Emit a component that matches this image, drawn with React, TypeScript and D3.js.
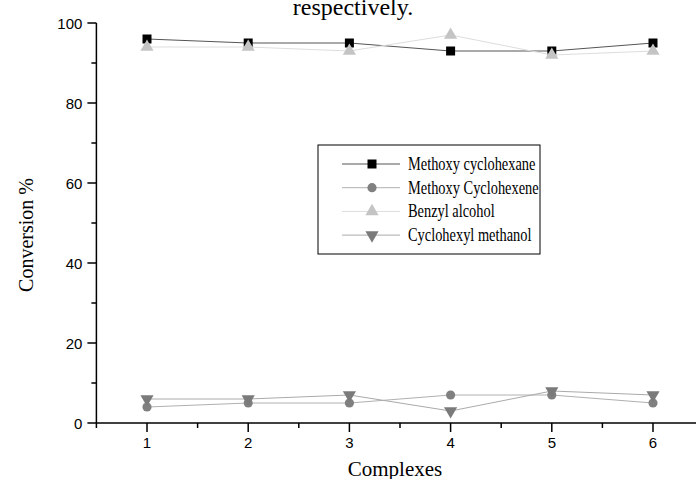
import React, { useEffect, useRef } from 'react';
import * as d3 from 'd3';

const complexes = [1, 2, 3, 4, 5, 6];
const methoxyCyclohexane = [96, 95, 95, 93, 93, 95];
const methoxyCyclohexene = [4, 5, 5, 7, 7, 5];
const benzylAlcohol = [94, 94, 93, 97, 92, 93];
const cyclohexylMethanol = [6, 6, 7, 3, 8, 7];
const yTicks = [0, 20, 40, 60, 80, 100];

const series = [
  { name: 'Methoxy cyclohexane', values: methoxyCyclohexane, symbol: d3.symbolSquare, size: 81, fill: '#000000', line: '#555555' },
  { name: 'Methoxy Cyclohexene', values: methoxyCyclohexene, symbol: d3.symbolCircle, size: 66, fill: '#808080', line: '#b0b0b0' },
  { name: 'Benzyl alcohol', values: benzylAlcohol, symbol: d3.symbolTriangle, size: 75, fill: '#c4c4c4', line: '#dddddd' },
  { name: 'Cyclohexyl methanol', values: cyclohexylMethanol, symbol: d3.symbolTriangle, size: 75, fill: '#7a7a7a', line: '#aaaaaa', down: true },
];

const Chart = () => {
  const svgRef = useRef<SVGSVGElement>(null);

  useEffect(() => {
    const svg = d3.select(svgRef.current);
    svg.selectAll('*').remove();

    const x = d3.scaleLinear().domain([0.5, 6.5]).range([96.4, 703.6]);
    const y = d3.scaleLinear().domain([0, 100]).range([423, 23]);

    // title fragment, clipped at the top edge like the source figure
    svg.append('text')
      .attr('x', 353).attr('y', 15)
      .attr('text-anchor', 'middle')
      .attr('font-family', 'Liberation Serif')
      .attr('font-size', 24)
      .text('respectively.');

    // y axis
    const yAxis = svg.append('g').attr('transform', `translate(${x(0.5)},0)`);
    yAxis.append('line').attr('y1', y(100)).attr('y2', y(0) + 5).attr('stroke', '#000').attr('stroke-width', 1.5);
    d3.range(0, 101, 10).forEach(v => {
      const major = v % 20 === 0;
      yAxis.append('line')
        .attr('x1', major ? -9 : -5).attr('x2', 0)
        .attr('y1', y(v)).attr('y2', y(v))
        .attr('stroke', '#000').attr('stroke-width', 1.5);
    });
    yTicks.forEach(v => {
      yAxis.append('text')
        .attr('x', -14).attr('y', y(v) + 5.5)
        .attr('text-anchor', 'end')
        .attr('font-family', 'Liberation Sans')
        .attr('font-size', 15)
        .text(v);
    });

    // x axis
    const xAxis = svg.append('g').attr('transform', `translate(0,${y(0)})`);
    xAxis.append('line').attr('x1', x(0.5)).attr('x2', 696).attr('stroke', '#000').attr('stroke-width', 1.5);
    d3.range(1, 6.01, 0.5).forEach(v => {
      const major = Number.isInteger(v);
      xAxis.append('line')
        .attr('x1', x(v)).attr('x2', x(v))
        .attr('y1', 0).attr('y2', major ? 9 : 5)
        .attr('stroke', '#000').attr('stroke-width', 1.5);
    });
    complexes.forEach(v => {
      xAxis.append('text')
        .attr('x', x(v)).attr('y', 25)
        .attr('text-anchor', 'middle')
        .attr('font-family', 'Liberation Sans')
        .attr('font-size', 15)
        .text(v);
    });

    svg.append('text')
      .attr('x', 395).attr('y', 476)
      .attr('text-anchor', 'middle')
      .attr('font-family', 'Liberation Serif')
      .attr('font-size', 21)
      .text('Complexes');

    svg.append('text')
      .attr('transform', 'translate(33,235) rotate(-90)')
      .attr('text-anchor', 'middle')
      .attr('font-family', 'Liberation Serif')
      .attr('font-size', 20)
      .text('Conversion %');

    // series
    const line = d3.line<number>().x((_, i) => x(complexes[i])).y(d => y(d));
    series.forEach(s => {
      svg.append('path')
        .attr('d', line(s.values))
        .attr('fill', 'none')
        .attr('stroke', s.line)
        .attr('stroke-width', 1);
      const sym = d3.symbol().type(s.symbol).size(s.size);
      svg.append('g').selectAll('path')
        .data(s.values)
        .join('path')
        .attr('d', sym)
        .attr('transform', (d, i) => `translate(${x(complexes[i])},${y(d)})${s.down ? ' rotate(180)' : ''}`)
        .attr('fill', s.fill);
    });

    // legend
    const lg = svg.append('g').attr('transform', 'translate(318,145)');
    lg.append('rect').attr('width', 222).attr('height', 109)
      .attr('fill', '#fff').attr('stroke', '#000').attr('stroke-width', 1);
    series.forEach((s, i) => {
      const yy = 19 + i * 23.7;
      lg.append('line').attr('x1', 24).attr('x2', 82).attr('y1', yy).attr('y2', yy)
        .attr('stroke', s.line).attr('stroke-width', 1);
      lg.append('path')
        .attr('d', d3.symbol().type(s.symbol).size(s.size)())
        .attr('transform', `translate(54,${yy})${s.down ? ' rotate(180)' : ''}`)
        .attr('fill', s.fill);
      lg.append('text')
        .attr('transform', `translate(90,${yy + 6}) scale(0.8,1)`)
        .attr('font-family', 'Liberation Serif')
        .attr('font-size', 18)
        .text(s.name);
    });
  }, []);

  return <svg ref={svgRef} width={696} height={479} style={{ display: 'block' }}></svg>;
};

export default function App() {
  return (
    <div style={{ position: 'absolute', left: 0, top: 0 }}>
      <Chart />
    </div>
  );
}
